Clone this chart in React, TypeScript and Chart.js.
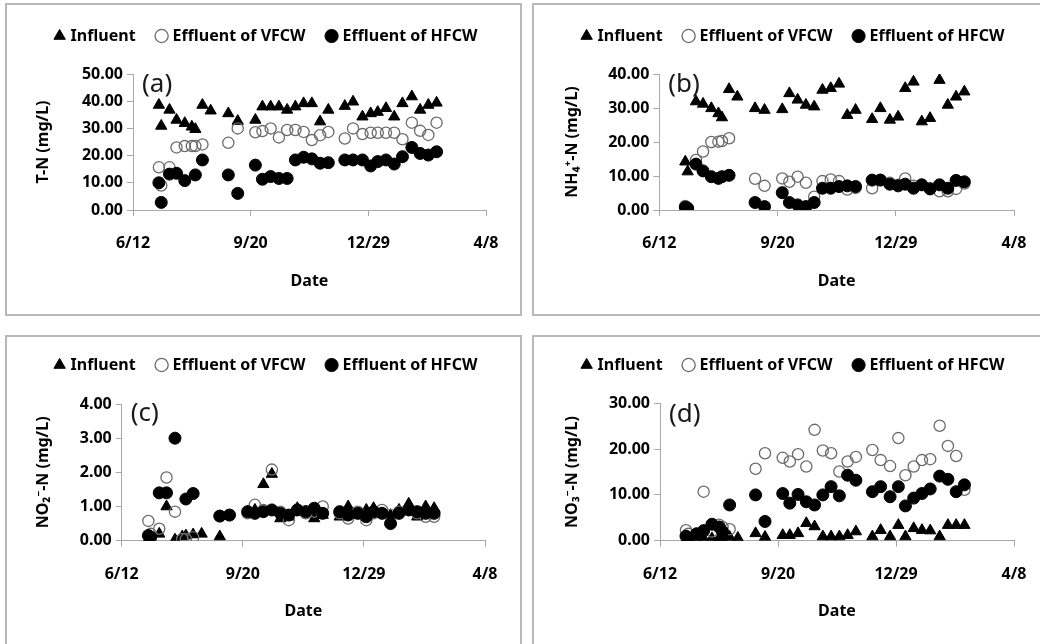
import React, { useEffect, useRef } from "react";
import { Chart, registerables, layouts } from "chart.js";

Chart.register(...registerables);

// ---------- data ----------
// sampling dates, as days after 6/12
const SAMPLE_DAYS = [22, 24, 31, 37, 44, 50, 53, 59, 66, 81, 89, 104, 110, 117, 124, 131, 138, 145, 152, 159, 166, 180, 187, 195, 202, 208, 215, 222, 229, 237, 244, 251, 258];
const DATE_TICK_LABELS = ["6/12", "9/20", "12/29", "4/8"];
const SERIES_NAMES = ["Influent", "Effluent of VFCW", "Effluent of HFCW"];

const TN_INFLUENT = [38.6, 30.9, 36.8, 33.1, 31.9, 30.6, 29.7, 38.6, 36.5, 35.5, 32.7, 33.1, 38.0, 38.0, 38.0, 36.8, 38.0, 39.2, 39.2, 32.5, 36.8, 38.2, 39.8, 34.3, 35.5, 36.0, 37.4, 34.3, 39.2, 41.7, 36.8, 38.6, 39.4];
const TN_VFCW = [15.7, 9.0, 15.7, 23.0, 23.5, 23.5, 23.5, 24.1, null, 24.7, 30.0, 28.6, 29.0, 30.0, 26.7, 29.4, 29.4, 28.7, 25.7, 27.5, 28.7, 26.3, 30.0, 27.9, 28.4, 28.4, 28.4, 28.4, 26.0, 32.1, 29.1, 27.6, 32.1];
const TN_HFCW = [10.0, 2.8, 13.2, 13.5, 10.8, null, 12.9, 18.4, null, 12.9, 6.1, 16.5, 11.3, 12.3, 11.6, 11.6, 18.4, 19.4, 18.8, 17.2, 17.4, 18.4, 18.4, 18.4, 16.2, 17.8, 18.4, 16.9, 19.6, 23.0, 20.8, 20.2, 21.4];

const NH4_INFLUENT = [14.2, 11.3, 31.9, 31.2, 29.9, 28.4, 27.2, 35.5, 33.3, 29.9, 29.4, 29.6, 34.3, 32.4, 30.9, 30.4, 35.3, 35.8, 37.1, 27.9, 29.4, 26.7, 29.9, 26.5, 27.4, 35.8, 37.7, 26.0, 27.0, 38.2, 30.9, 33.3, 34.8];
const NH4_VFCW = [1.2, null, 14.7, 17.2, 20.0, 20.1, 20.3, 21.1, null, 9.2, 7.1, 9.3, 8.3, 9.8, 8.0, 3.9, 8.5, 9.0, 8.5, 6.0, 6.5, 6.4, 8.8, 8.0, 7.4, 9.3, 7.1, 7.4, 6.4, 5.5, 5.5, 6.2, 7.8];
const NH4_HFCW = [0.8, 0.5, 13.5, 11.5, 9.8, 9.3, 9.8, 10.2, null, 2.2, 1.0, 5.1, 2.2, 1.5, 1.0, 2.2, 6.4, 6.4, 6.9, 7.1, 6.9, 8.8, 8.8, 7.6, 7.1, 7.6, 6.4, 7.4, 6.2, 7.4, 6.4, 8.7, 8.3];

const NO2_INFLUENT = [0.05, 0.02, 0.2, 1.0, 0.03, 0.12, 0.15, 0.18, 0.2, 0.12, null, 0.85, 0.9, 1.65, 1.95, 0.65, 0.7, 0.95, 0.85, 0.65, 0.75, 0.7, 1.0, 0.75, 0.9, 0.95, 0.8, 0.75, 0.9, 1.08, 0.7, 1.0, 0.95];
const NO2_VFCW = [0.58, 0.2, 0.35, 1.85, 0.85, 0.05, 0.05, 0.1, null, 0.72, 0.75, 0.8, 1.05, 0.9, 2.08, 0.85, 0.6, 0.9, 0.8, 0.85, 1.0, 0.8, 0.65, 0.85, 0.6, 0.8, 0.9, 0.75, 0.85, 0.9, 0.8, 0.7, 0.7];
const NO2_HFCW = [0.15, 0.1, 1.4, 1.4, 3.0, null, 1.22, 1.38, null, 0.72, 0.75, 0.85, 0.8, 0.85, 0.9, 0.8, 0.75, 0.9, 0.85, 0.95, 0.8, 0.85, 0.75, 0.8, 0.7, 0.85, 0.8, 0.5, 0.8, 0.9, 0.85, 0.8, 0.8];

const NO3_INFLUENT = [0.2, 0.1, 0.3, 0.5, 0.5, 0.5, 0.3, 0.8, 0.6, 1.6, 0.8, 1.2, 1.2, 1.6, 3.8, 3.1, 0.9, 0.9, 0.9, 1.2, 2.0, 0.9, 2.3, 0.9, 3.4, 0.9, 2.7, 2.3, 2.2, 0.9, 3.4, 3.4, 3.4];
const NO3_VFCW = [2.3, 1.5, 1.5, 10.7, 2.0, 3.5, 3.0, 2.5, null, 15.7, 19.1, 18.1, 17.3, 18.9, 16.2, 24.2, 19.7, 19.1, 15.1, 17.3, 18.3, 19.8, 17.6, 16.3, 22.4, 14.3, 16.2, 17.6, 17.8, 25.1, 20.7, 18.5, 11.1];
const NO3_HFCW = [1.0, 0.5, 1.5, 2.2, 3.6, 3.0, 2.0, 7.8, null, 10.0, 4.2, 10.3, 8.2, 10.1, 8.5, 7.8, 10.0, 11.8, 9.8, 14.3, 13.2, 10.7, 11.8, 9.6, 11.8, 7.6, 9.3, 10.3, 11.3, 14.1, 13.4, 10.7, 12.2];

const PANELS = [
  { label: "(a)", yTitle: "T-N (mg/L)", yMax: 50, yStep: 10, series: [TN_INFLUENT, TN_VFCW, TN_HFCW] },
  { label: "(b)", yTitle: "NH\u2084\u207A-N (mg/L)", yMax: 40, yStep: 10, series: [NH4_INFLUENT, NH4_VFCW, NH4_HFCW] },
  { label: "(c)", yTitle: "NO\u2082\u207B-N (mg/L)", yMax: 4, yStep: 1, series: [NO2_INFLUENT, NO2_VFCW, NO2_HFCW] },
  { label: "(d)", yTitle: "NO\u2083\u207B-N (mg/L)", yMax: 30, yStep: 10, series: [NO3_INFLUENT, NO3_VFCW, NO3_HFCW] },
];

// ---------- layout / style ----------
const LAYOUTS = [
  { frame: { left: 5, top: 3, width: 517, height: 313 }, canvas: { left: 7, top: 5, width: 513, height: 309 }, plot: { left: 126, right: 479, top: 69, bottom: 205 }, yTitlePad: 19.5, labelDy: 10.5 },
  { frame: { left: 532, top: 3, width: 517, height: 313 }, canvas: { left: 534, top: 5, width: 513, height: 309 }, plot: { left: 125.3, right: 480, top: 69, bottom: 205 }, yTitlePad: 22, labelDy: 10.5 },
  { frame: { left: 5, top: 335, width: 517, height: 313 }, canvas: { left: 7, top: 334, width: 513, height: 310 }, plot: { left: 114.7, right: 478, top: 70, bottom: 206.7 }, yTitlePad: 19.5, labelDy: 10 },
  { frame: { left: 532, top: 335, width: 517, height: 313 }, canvas: { left: 534, top: 334, width: 513, height: 310 }, plot: { left: 126, right: 480, top: 69.3, bottom: 206.7 }, yTitlePad: 21.5, labelDy: 11 },
];

const FONT_FAMILY = '"Noto Sans", "DejaVu Sans", sans-serif';
const AXIS_COLOR = "#a8a8a8";
const LAYOUT_LEFT = 7;
const LEGEND_FONT_SIZE = 16;
const LEGEND_PADDING = 23;

const MARKERS = [
  { pointStyle: "triangle", radius: 6.5, fill: "#000000", stroke: "#000000", width: 1, order: 3 },
  { pointStyle: "circle", radius: 5.6, fill: "rgba(255,255,255,0)", stroke: "#6a6a6a", width: 1.3, order: 2 },
  { pointStyle: "circle", radius: 6, fill: "#000000", stroke: "#000000", width: 1, order: 1 },
];

function toPoints(values: (number | null)[]) {
  const pts: { x: number; y: number }[] = [];
  SAMPLE_DAYS.forEach((d, i) => {
    const v = values[i];
    if (v !== null && v !== undefined) pts.push({ x: d, y: v });
  });
  return pts;
}

const panelLabelPlugin = {
  id: "panelLabel",
  afterDraw(chart: any, _args: any, opts: any) {
    const { ctx, chartArea } = chart;
    ctx.save();
    ctx.font = `26px ${FONT_FAMILY}`;
    ctx.fillStyle = "#1a1a1a";
    ctx.textAlign = "left";
    ctx.textBaseline = "middle";
    ctx.fillText(opts.text, chartArea.left + opts.dx, chartArea.top + opts.dy);
    ctx.restore();
  },
};

// an empty layout box placed between the legend and the plot area
function makeLegendSpacer(height: number) {
  return {
    id: "legendSpacer",
    beforeInit(chart: any) {
      const box: any = {
        position: "top",
        weight: 0,
        fullSize: false,
        options: { stackWeight: 1 },
        left: 0,
        top: 0,
        right: 0,
        bottom: 0,
        width: 0,
        height: 0,
        isHorizontal: () => true,
        update(maxWidth: number) {
          box.width = maxWidth;
          box.height = height;
        },
        getPadding: () => ({ left: 0, right: 0, top: 0, bottom: 0 }),
        draw() {},
      };
      layouts.addBox(chart, box);
    },
  };
}

function Panel({ index }: { index: number }) {
  const ref = useRef<HTMLCanvasElement>(null);
  const spec = PANELS[index];
  const lay = LAYOUTS[index];

  useEffect(() => {
    if (!ref.current) return;
    const boldFont = { family: FONT_FAMILY, size: 16, weight: "bold" as const };
    const legendHeight = LEGEND_FONT_SIZE + LEGEND_PADDING + 10;
    const chart = new Chart(ref.current, {
      type: "scatter",
      data: {
        datasets: spec.series.map((vals, i) => ({
          label: SERIES_NAMES[i],
          data: toPoints(vals),
          showLine: false,
          pointStyle: MARKERS[i].pointStyle as any,
          pointRadius: MARKERS[i].radius,
          pointHoverRadius: MARKERS[i].radius,
          pointBackgroundColor: MARKERS[i].fill,
          pointBorderColor: MARKERS[i].stroke,
          pointBorderWidth: MARKERS[i].width,
          backgroundColor: MARKERS[i].fill,
          borderColor: MARKERS[i].stroke,
          borderWidth: MARKERS[i].width,
          order: MARKERS[i].order,
        })),
      },
      options: {
        responsive: false,
        animation: false,
        devicePixelRatio: 1,
        events: [],
        layout: { padding: { left: LAYOUT_LEFT, top: 0, right: 0, bottom: 0 } },
        plugins: {
          tooltip: { enabled: false },
          legend: {
            display: true,
            position: "top",
            align: "center",
            labels: {
              usePointStyle: true,
              boxWidth: 6,
              boxHeight: 9.3,
              padding: LEGEND_PADDING,
              color: "#000",
              font: { family: FONT_FAMILY, size: LEGEND_FONT_SIZE, weight: "bold" },
              sort: (a: any, b: any) => a.datasetIndex - b.datasetIndex,
            },
          },
          panelLabel: { text: spec.label, dx: 9, dy: lay.labelDy },
        } as any,
        scales: {
          x: {
            type: "linear",
            min: 0,
            max: 300,
            ticks: {
              stepSize: 100,
              autoSkip: false,
              maxRotation: 0,
              padding: 18,
              color: "#000",
              font: boldFont,
              callback: (v: any) => DATE_TICK_LABELS[Math.round(Number(v) / 100)] ?? "",
            },
            grid: { display: true, drawOnChartArea: false, drawTicks: true, tickLength: 6, color: AXIS_COLOR, lineWidth: 1 },
            border: { display: true, color: AXIS_COLOR, width: 1 },
            title: { display: true, text: "Date", color: "#000", font: boldFont, padding: { top: 0, bottom: 23 } },
            afterFit: (s: any) => {
              s.height = lay.canvas.height - lay.plot.bottom;
              s.paddingRight = lay.canvas.width - lay.plot.right;
            },
          },
          y: {
            type: "linear",
            min: 0,
            max: spec.yMax,
            ticks: {
              stepSize: spec.yStep,
              padding: 4,
              color: "#000",
              font: boldFont,
              callback: (v: any) => Number(v).toFixed(2),
            },
            grid: { display: true, drawOnChartArea: false, drawTicks: true, tickLength: 6, color: AXIS_COLOR, lineWidth: 1 },
            border: { display: true, color: AXIS_COLOR, width: 1 },
            title: { display: true, text: spec.yTitle, color: "#000", font: boldFont, padding: { top: lay.yTitlePad, bottom: 0 } },
            afterFit: (s: any) => {
              s.width = lay.plot.left - LAYOUT_LEFT;
            },
          },
        },
      } as any,
      plugins: [panelLabelPlugin, makeLegendSpacer(Math.max(0, lay.plot.top - legendHeight))],
    });
    return () => chart.destroy();
  }, []);

  return (
    <canvas
      ref={ref}
      width={lay.canvas.width}
      height={lay.canvas.height}
      style={{
        position: "absolute",
        left: lay.canvas.left,
        top: lay.canvas.top,
        width: lay.canvas.width,
        height: lay.canvas.height,
        display: "block",
      }}
    />
  );
}

export default function App() {
  return (
    <div
      style={{
        position: "absolute",
        left: 0,
        top: 0,
        width: 1040,
        height: 644,
        overflow: "hidden",
        background: "#ffffff",
      }}
    >
      {LAYOUTS.map((l, i) => (
        <div
          key={"f" + i}
          style={{
            position: "absolute",
            left: l.frame.left,
            top: l.frame.top,
            width: l.frame.width,
            height: l.frame.height,
            boxSizing: "border-box",
            border: "2px solid #b8b8b8",
          }}
        />
      ))}
      {PANELS.map((_, i) => (
        <Panel key={"p" + i} index={i} />
      ))}
    </div>
  );
}
